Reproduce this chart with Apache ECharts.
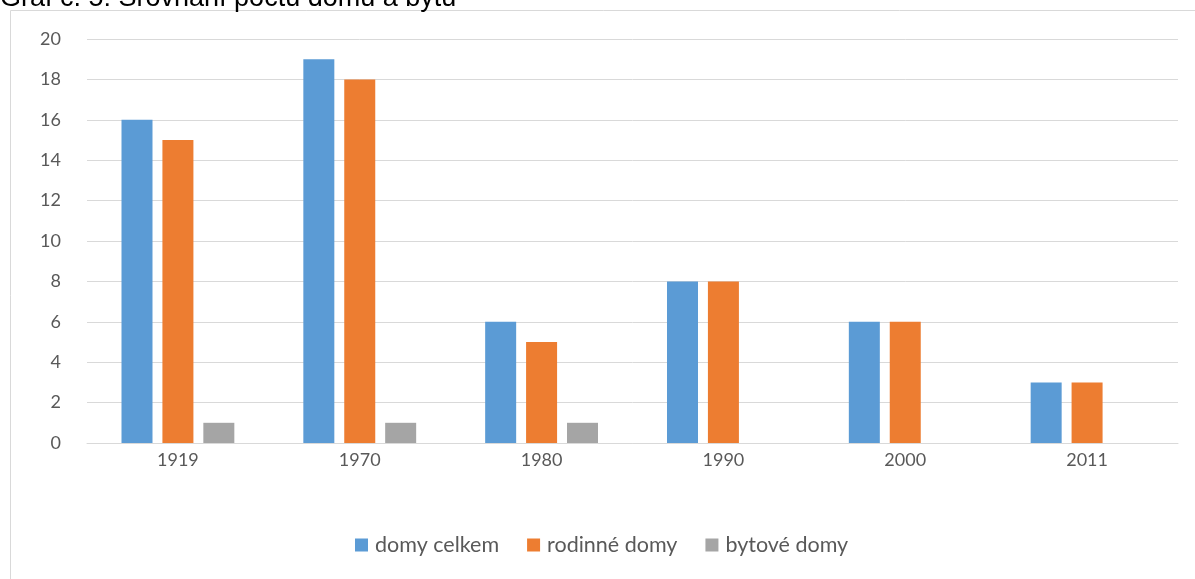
<!DOCTYPE html>
<html>
<head>
<meta charset="utf-8">
<script src="https://cdn.jsdelivr.net/npm/echarts@6/dist/echarts.min.js"></script>
<style>
  html, body { margin: 0; padding: 0; background: #fff; }
  #main { width: 1195px; height: 579px; }
</style>
</head>
<body>
<div id="main"></div>
<script>
// data
const years = ['1919', '1970', '1980', '1990', '2000', '2011'];
const domyCelkem = [16, 19, 6, 8, 6, 3];
const rodinneDomy = [15, 18, 5, 8, 6, 3];
const bytoveDomy = [1, 1, 1, 0, 0, 0];

const chartDom = document.getElementById('main');
const myChart = echarts.init(chartDom);

const font = 'Lato, "Open Sans", sans-serif';

const option = {
  animation: false,
  graphic: [
    {
      type: 'rect',
      shape: { x: 10.5, y: 10.5, width: 1200, height: 600 },
      style: { fill: 'none', stroke: '#d9d9d9', lineWidth: 1 }
    },
    {
      type: 'text',
      left: 0,
      top: -15,
      style: {
        text: 'Graf č. 5: Srovnání počtu domů a bytů',
        fill: '#000',
        font: '27px "Liberation Sans", Arial, sans-serif'
      }
    }
  ],
  legend: {
    bottom: 18,
    left: 350,
    itemWidth: 13,
    itemHeight: 13,
    itemGap: 28,
    icon: 'rect',
    textStyle: { color: '#595959', fontSize: 21.5, fontFamily: font, padding: [0, 0, 0, 2] },
    data: ['domy celkem', 'rodinné domy', 'bytové domy']
  },
  grid: { left: 87, right: 17, top: 39, bottom: 136, containLabel: false },
  xAxis: {
    type: 'category',
    data: years,
    axisLine: { lineStyle: { color: '#d9d9d9' } },
    axisTick: { show: false },
    axisLabel: { color: '#595959', fontSize: 18, fontFamily: font, margin: 8 }
  },
  yAxis: {
    type: 'value',
    min: 0,
    max: 20,
    interval: 2,
    axisLine: { show: false },
    axisTick: { show: false },
    splitLine: { lineStyle: { color: '#d9d9d9' } },
    axisLabel: { color: '#595959', fontSize: 18, fontFamily: font, margin: 26 }
  },
  series: [
    { name: 'domy celkem', type: 'bar', data: domyCelkem, barWidth: 31, barGap: '32%', itemStyle: { color: '#5b9bd5' } },
    { name: 'rodinné domy', type: 'bar', data: rodinneDomy, barWidth: 31, barGap: '32%', itemStyle: { color: '#ed7d31' } },
    { name: 'bytové domy', type: 'bar', data: bytoveDomy, barWidth: 31, barGap: '32%', itemStyle: { color: '#a5a5a5' } }
  ]
};

option && myChart.setOption(option);
</script>
</body>
</html>
